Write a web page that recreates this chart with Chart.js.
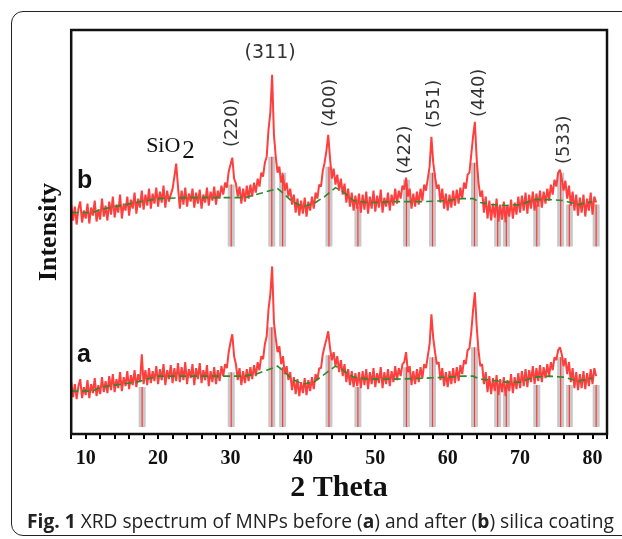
<!DOCTYPE html>
<html>
<head>
<meta charset="utf-8">
<script src="https://cdn.jsdelivr.net/npm/chart.js@4.4.1/dist/chart.umd.min.js"></script>
<style>
  html, body { margin: 0; padding: 0; background: #fff; }
  body { width: 622px; height: 539px; position: relative; overflow: hidden; }
  #frame { position: absolute; left: 11px; top: 11px; width: 700px; height: 523px; border: 1.5px solid #222; border-radius: 12px; }
  #xrd { position: absolute; left: 0; top: 0; }
  #caption { position: absolute; left: 27px; top: 507px; font: 19.2px 'Open Sans', sans-serif; color: #222; white-space: nowrap; }
</style>
</head>
<body>
<div id="frame"></div>
<canvas id="xrd" width="622" height="539"></canvas>
<div id="caption"><b>Fig. 1</b> XRD spectrum of MNPs before (<b>a</b>) and after (<b>b</b>) silica coating</div>
<script>
// scan: first 2-theta and step, degrees
const thetaStart = 8;
const thetaStep = 0.25;

// (b) after silica coating - stacked above (a)
const intensityB = [
  230, 214, 228, 210, 226, 233, 212, 224, 216, 231, 211, 227, 219, 234, 213, 225, 215, 236, 218, 229,
  214, 233, 220, 238, 217, 230, 222, 240, 216, 231, 224, 238, 219, 235, 226, 242, 221, 236, 227, 244,
  225, 240, 229, 246, 226, 241, 231, 247, 228, 243, 232, 249, 227, 244, 233, 240, 246, 258, 271, 248,
  226, 244, 230, 247, 228, 241, 233, 246, 227, 242, 231, 245, 226, 240, 232, 247, 229, 243, 234, 248,
  230, 244, 236, 249, 240, 252, 247, 263, 270, 277, 256, 251, 238, 248, 231, 246, 233, 249, 236, 250,
  238, 252, 242, 256, 248, 262, 258, 272, 278, 305, 322, 360, 300, 278, 262, 268, 252, 260, 244, 252,
  238, 246, 230, 240, 222, 236, 219, 234, 221, 237, 218, 233, 224, 238, 226, 242, 236, 250, 248, 264,
  272, 284, 300, 276, 256, 266, 250, 260, 244, 256, 240, 251, 232, 246, 228, 242, 224, 239, 226, 241,
  222, 240, 225, 243, 221, 238, 226, 244, 223, 239, 227, 245, 222, 237, 228, 242, 224, 240, 229, 246,
  231, 244, 236, 249, 245, 257, 238, 246, 226, 241, 228, 243, 230, 246, 234, 250, 244, 256, 268, 298,
  272, 258, 246, 250, 232, 246, 226, 241, 224, 240, 227, 244, 229, 245, 231, 247, 236, 252, 246, 260,
  262, 280, 298, 313, 276, 252, 238, 244, 222, 238, 216, 234, 214, 231, 217, 236, 213, 230, 215, 233,
  212, 229, 218, 235, 216, 232, 220, 238, 222, 239, 224, 242, 221, 240, 226, 243, 224, 241, 228, 244,
  227, 243, 231, 246, 234, 250, 240, 255, 248, 262, 265, 256, 244, 254, 236, 249, 229, 243, 224, 240,
  219, 237, 222, 240, 218, 236, 224, 242, 220, 238, 232
];

// (a) before coating
const intensityA = [
  52, 37, 50, 35, 48, 55, 36, 47, 39, 54, 36, 50, 41, 56, 38, 49, 40, 57, 42, 53,
  41, 58, 44, 60, 42, 55, 46, 62, 43, 57, 48, 63, 45, 59, 49, 64, 47, 60, 52, 80,
  50, 64, 49, 66, 51, 63, 53, 68, 50, 65, 54, 70, 49, 64, 55, 69, 51, 66, 53, 71,
  52, 67, 54, 72, 50, 65, 56, 70, 49, 66, 55, 71, 51, 64, 54, 69, 48, 63, 52, 67,
  50, 64, 53, 68, 58, 70, 66, 82, 92, 100, 78, 70, 54, 66, 49, 63, 51, 65, 53, 67,
  55, 69, 58, 72, 64, 78, 75, 90, 98, 125, 140, 168, 112, 96, 82, 88, 70, 78, 60, 68,
  54, 62, 44, 57, 40, 55, 38, 52, 41, 56, 39, 54, 43, 57, 45, 60, 54, 66, 66, 80,
  88, 95, 103, 86, 74, 82, 68, 78, 62, 74, 58, 70, 52, 65, 49, 63, 47, 61, 48, 62,
  46, 63, 49, 65, 45, 62, 50, 66, 47, 61, 51, 67, 46, 62, 50, 65, 48, 63, 52, 68,
  54, 66, 58, 70, 72, 82, 62, 68, 49, 63, 50, 65, 52, 67, 56, 70, 66, 78, 90, 120,
  96, 82, 70, 72, 54, 66, 48, 62, 47, 63, 50, 66, 51, 67, 53, 69, 60, 74, 70, 84,
  86, 102, 124, 142, 108, 84, 68, 70, 50, 62, 42, 58, 40, 56, 43, 59, 39, 55, 42, 57,
  38, 54, 43, 60, 41, 57, 45, 61, 46, 63, 48, 65, 47, 64, 52, 68, 50, 66, 53, 69,
  52, 67, 56, 70, 58, 72, 64, 77, 74, 84, 87, 80, 68, 76, 60, 72, 52, 66, 46, 62,
  44, 60, 46, 63, 45, 61, 48, 65, 50, 66, 58
];

// fitted background (green dashed)
const bgTheta = [8, 11, 12, 14, 17, 20, 24, 28, 32, 33.5, 35, 36.5, 37.5, 38.5, 40, 41.5, 43, 44.5, 45.5, 47, 49, 53, 57, 60, 62, 63.5, 64.5, 66, 68, 70, 72, 74, 76, 78, 80];
const bgB = [222, 222, 225, 228, 232, 236, 237, 237, 237, 240, 243, 246, 240, 233, 228, 231, 238, 247, 243, 234, 232, 233, 233, 234, 236, 236, 232, 230, 229, 230, 235, 235, 234, 230, 233];
const bgA = [43, 43, 47, 49, 52, 58, 58, 58, 58, 60, 64, 68, 62, 55, 50, 52, 60, 68, 64, 57, 55, 55, 56, 57, 58, 58, 55, 54, 52, 52, 57, 58, 57, 53, 56];

// reference pattern sticks: position and height above each trace's base
const refTheta = [17.8, 30.1, 35.7, 37.2, 43.6, 47.6, 54.3, 57.9, 63.7, 66.9, 68.1, 72.3, 75.6, 76.8, 80.5];
const refHeightB = [0, 62, 90, 74, 80, 40, 67, 74, 84, 40, 40, 42, 74, 42, 42];
const refHeightA = [40, 55, 100, 60, 72, 40, 60, 70, 80, 40, 40, 42, 70, 42, 42];
const refBaseB = 188;
const refBaseA = 7;

const toPoints = (ys) => ys.map((y, i) => ({ x: thetaStart + i * thetaStep, y }));
const bgPoints = (ys) => ys.map((y, i) => ({ x: bgTheta[i], y }));
function stickPoints(base, heights) {
  const pts = [];
  refTheta.forEach((t, i) => {
    if (!heights[i]) return;
    pts.push({ x: t, y: base }, { x: t, y: base + heights[i] }, { x: t, y: null });
  });
  return pts;
}

// peak annotations, placed in data coordinates
const notes = [
  { text: '(311)', t: 35.47, v: 382, rot: false },
  { text: '(220)', t: 30.23, v: 312, rot: true },
  { text: '(400)', t: 43.76, v: 332, rot: true },
  { text: '(422)', t: 54.11, v: 285, rot: true },
  { text: '(551)', t: 58.12, v: 331, rot: true },
  { text: '(440)', t: 64.33, v: 342, rot: true },
  { text: '(533)', t: 76.07, v: 295, rot: true }
];

const decorations = {
  id: 'decorations',
  afterDatasetsDraw(chart) {
    const { ctx, chartArea: a, scales: { x, y } } = chart;
    ctx.save();
    ctx.strokeStyle = '#111';
    ctx.lineWidth = 2.5;
    ctx.strokeRect(a.left, a.top, a.right - a.left, a.bottom - a.top);

    ctx.fillStyle = '#333';
    ctx.textAlign = 'center';
    ctx.textBaseline = 'middle';
    notes.forEach(n => {
      const px = x.getPixelForValue(n.t), py = y.getPixelForValue(n.v);
      ctx.font = n.rot ? '18px "DejaVu Sans"' : '19px "DejaVu Sans"';
      ctx.save();
      ctx.translate(px, py);
      if (n.rot) ctx.rotate(-Math.PI / 2);
      ctx.fillText(n.text, 0, 0);
      ctx.restore();
    });

    // SiO2
    ctx.fillStyle = '#111';
    ctx.textAlign = 'left';
    ctx.textBaseline = 'alphabetic';
    let sx = x.getPixelForValue(18.35), sy = y.getPixelForValue(283);
    ctx.font = '22px "Liberation Serif"';
    ctx.fillText('SiO', sx, sy);
    sx += ctx.measureText('SiO').width + 2;
    ctx.font = '25px "Liberation Serif"';
    ctx.fillText('2', sx, sy + 6);

    // trace letters
    ctx.font = 'bold 25px "Liberation Sans"';
    ctx.fillText('b', x.getPixelForValue(8.8), y.getPixelForValue(247));
    ctx.fillText('a', x.getPixelForValue(8.8), y.getPixelForValue(72));
    ctx.restore();
  }
};

const spectrumStyle = { borderColor: 'rgb(255,62,62)', borderWidth: 2, borderJoinStyle: 'bevel', pointRadius: 0, fill: false, order: 3 };
const grayStick = { borderColor: '#c8c8c8', borderWidth: 7, borderCapStyle: 'butt', pointRadius: 0, spanGaps: false, order: 4 };
const redStick = { borderColor: '#ff3a3a', borderWidth: 1.2, borderCapStyle: 'butt', pointRadius: 0, spanGaps: false, order: 2 };
const bgStyle = { borderColor: '#2b8a2b', borderWidth: 1.6, borderDash: [7, 4], pointRadius: 0, tension: 0, order: 1 };

new Chart(document.getElementById('xrd'), {
  type: 'line',
  data: {
    datasets: [
      { ...spectrumStyle, data: toPoints(intensityB) },
      { ...spectrumStyle, data: toPoints(intensityA) },
      { ...grayStick, data: stickPoints(refBaseB, refHeightB) },
      { ...grayStick, data: stickPoints(refBaseA, refHeightA) },
      { ...redStick, data: stickPoints(refBaseB, refHeightB) },
      { ...redStick, data: stickPoints(refBaseA, refHeightA) },
      { ...bgStyle, data: bgPoints(bgB) },
      { ...bgStyle, data: bgPoints(bgA) }
    ]
  },
  options: {
    responsive: false,
    animation: false,
    layout: { padding: { left: 34, right: 15, top: 30, bottom: 33 } },
    plugins: { legend: { display: false }, tooltip: { enabled: false } },
    scales: {
      x: {
        type: 'linear', min: 8, max: 82, offset: false,
        border: { display: false },
        grid: { display: true, drawOnChartArea: false, drawTicks: true, tickLength: 5, color: '#000', lineWidth: 2 },
        ticks: {
          stepSize: 2, autoSkip: false, maxRotation: 0, padding: 8, color: '#111',
          font: { family: 'Liberation Serif', size: 20, weight: 'bold' },
          callback: (v) => (v % 10 === 0 ? String(v) : '')
        },
        title: { display: true, text: '2 Theta', color: '#111', padding: { top: -9, bottom: 0 },
          font: { family: 'Liberation Serif', size: 30, weight: 'bold' } }
      },
      y: {
        min: 0, max: 405,
        border: { display: false },
        grid: { display: false, drawTicks: false },
        ticks: { display: false },
        title: { display: true, text: 'Intensity', color: '#111', padding: { top: 0, bottom: 6 },
          font: { family: 'Liberation Serif', size: 26, weight: 'bold' } }
      }
    }
  },
  plugins: [decorations]
});
</script>
</body>
</html>
